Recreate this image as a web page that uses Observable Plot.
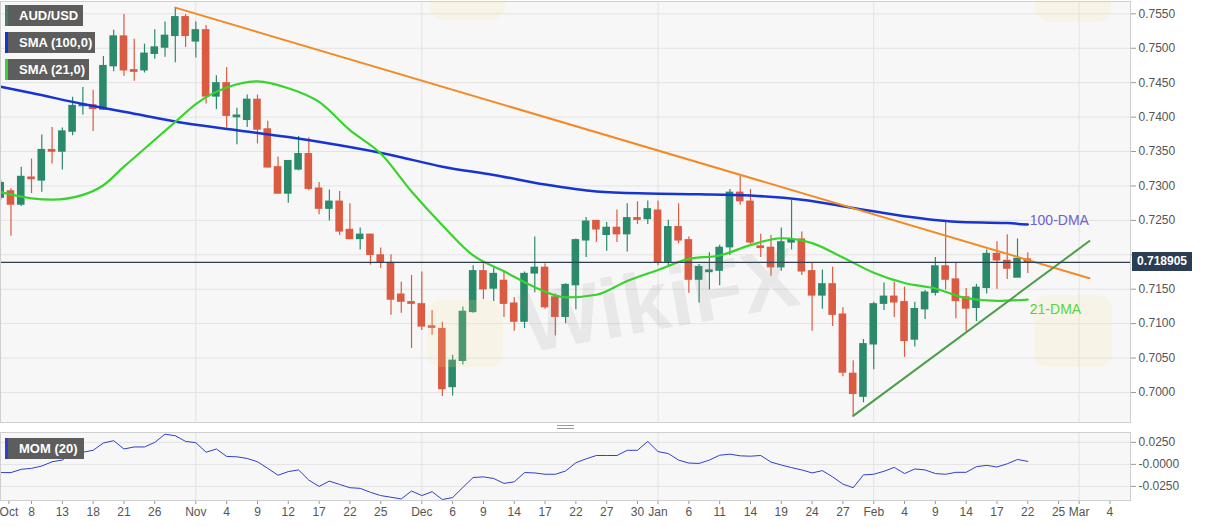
<!DOCTYPE html>
<html>
<head>
<meta charset="utf-8">
<script src="https://cdn.jsdelivr.net/npm/d3@7"></script>
<script src="https://cdn.jsdelivr.net/npm/@observablehq/plot@0.6"></script>
<style>
  body { margin: 0; background: #fff; font-family: "Liberation Sans", Arial, sans-serif; }
  #wrap { position: relative; width: 1207px; height: 526px; overflow: hidden; }
  #main, #mom { position: absolute; left: 0; }
  #main { top: 0; }
  #mom { top: 427px; }
  .tag { position: absolute; left: 5px; height: 21px; line-height: 21px; box-sizing: border-box;
         background: #5d5d5d; color: #fff; font-weight: bold; font-size: 13px; padding-left: 11px;
         border-left: 3px solid #777; white-space: nowrap; }
  .wm { position: absolute; pointer-events: none; white-space: nowrap; font-weight: bold; }
  .logo { position: absolute; pointer-events: none; border-radius: 14px; background: rgba(250, 228, 150, 0.16); }
  #price { position: absolute; left: 1132px; width: 60px; height: 19px; line-height: 19px; background: #2b3d55;
           color: #fff; font-weight: bold; font-size: 12px; text-align: center; }
  #handle { position: absolute; left: 557px; top: 425px; width: 17px; height: 2px;
            border-top: 1px solid #9a9a9a; border-bottom: 1px solid #9a9a9a; }
</style>
</head>
<body>
<div id="wrap"></div>
<script>
// trading-day index: 0 = Oct 8 2021, 97 = Feb 22 2022
const firstDay = -3;

// daily candles, AUD/USD
const open = [
  0.7283, 0.7292, 0.7273, 0.7312, 0.7308, 0.7352, 0.7350, 0.7379, 0.7416, 0.7417,
  0.7411, 0.7474, 0.7517, 0.7468, 0.7468, 0.7492, 0.7501, 0.7518, 0.7545, 0.7510,
  0.7526, 0.7430, 0.7449, 0.7400, 0.7396, 0.7425, 0.7382, 0.7327, 0.7289, 0.7324,
  0.7346, 0.7296, 0.7267, 0.7277, 0.7236, 0.7223, 0.7229, 0.7199, 0.7188, 0.7142,
  0.7131, 0.7128, 0.7096, 0.7092, 0.7008, 0.7046, 0.7117, 0.7176, 0.7151, 0.7162,
  0.7129, 0.7103, 0.7173, 0.7181, 0.7138, 0.7110, 0.7156, 0.7221, 0.7249, 0.7229,
  0.7239, 0.7230, 0.7253, 0.7252, 0.7264, 0.7190, 0.7240, 0.7221, 0.7164, 0.7175,
  0.7177, 0.7211, 0.7290, 0.7277, 0.7212, 0.7210, 0.7182, 0.7218, 0.7222, 0.7176,
  0.7141, 0.7157, 0.7113, 0.7027, 0.6994, 0.7070, 0.7129, 0.7139, 0.7131, 0.7077,
  0.7121, 0.7145, 0.7183, 0.7164, 0.7138, 0.7123, 0.7152, 0.7201, 0.7191, 0.7167,
  0.7193
];
const high = [
  0.7308, 0.7296, 0.7327, 0.7339, 0.7374, 0.7385, 0.7384, 0.7429, 0.7443, 0.7439,
  0.7488, 0.7526, 0.7549, 0.7513, 0.7506, 0.7527, 0.7538, 0.7559, 0.7549, 0.7538,
  0.7533, 0.7460, 0.7472, 0.7413, 0.7432, 0.7432, 0.7394, 0.7342, 0.7337, 0.7372,
  0.7370, 0.7305, 0.7294, 0.7292, 0.7274, 0.7239, 0.7230, 0.7210, 0.7200, 0.7160,
  0.7170, 0.7175, 0.7119, 0.7102, 0.7054, 0.7124, 0.7184, 0.7187, 0.7181, 0.7177,
  0.7138, 0.7175, 0.7226, 0.7187, 0.7143, 0.7158, 0.7223, 0.7254, 0.7250, 0.7247,
  0.7265, 0.7274, 0.7277, 0.7278, 0.7278, 0.7250, 0.7274, 0.7226, 0.7186, 0.7203,
  0.7214, 0.7295, 0.7315, 0.7295, 0.7230, 0.7228, 0.7239, 0.7279, 0.7233, 0.7188,
  0.7178, 0.7182, 0.7123, 0.7046, 0.7077, 0.7131, 0.7159, 0.7160, 0.7153, 0.7131,
  0.7148, 0.7196, 0.7249, 0.7188, 0.7151, 0.7157, 0.7207, 0.7219, 0.7229, 0.7223,
  0.7203
];
const low = [
  0.7279, 0.7227, 0.7270, 0.7289, 0.7291, 0.7332, 0.7323, 0.7373, 0.7403, 0.7379,
  0.7410, 0.7466, 0.7459, 0.7452, 0.7464, 0.7484, 0.7487, 0.7479, 0.7501, 0.7486,
  0.7419, 0.7411, 0.7384, 0.7360, 0.7385, 0.7361, 0.7326, 0.7288, 0.7275, 0.7322,
  0.7293, 0.7258, 0.7249, 0.7228, 0.7222, 0.7207, 0.7185, 0.7180, 0.7112, 0.7115,
  0.7064, 0.7090, 0.7083, 0.6994, 0.6995, 0.7040, 0.7115, 0.7135, 0.7132, 0.7109,
  0.7089, 0.7093, 0.7145, 0.7121, 0.7082, 0.7100, 0.7120, 0.7196, 0.7218, 0.7205,
  0.7218, 0.7204, 0.7244, 0.7244, 0.7184, 0.7184, 0.7216, 0.7144, 0.7130, 0.7149,
  0.7155, 0.7199, 0.7272, 0.7213, 0.7196, 0.7169, 0.7176, 0.7207, 0.7170, 0.7089,
  0.7121, 0.7096, 0.7023, 0.6966, 0.6985, 0.7033, 0.7119, 0.7109, 0.7051, 0.7066,
  0.7106, 0.7140, 0.7149, 0.7107, 0.7088, 0.7103, 0.7143, 0.7150, 0.7164, 0.7167,
  0.7173
];
const close = [
  0.7304, 0.7273, 0.7313, 0.7310, 0.7352, 0.7350, 0.7379, 0.7416, 0.7418, 0.7412,
  0.7474, 0.7517, 0.7468, 0.7466, 0.7492, 0.7501, 0.7518, 0.7545, 0.7518, 0.7526,
  0.7430, 0.7449, 0.7402, 0.7402, 0.7425, 0.7382, 0.7327, 0.7289, 0.7336, 0.7346,
  0.7296, 0.7267, 0.7277, 0.7234, 0.7223, 0.7229, 0.7200, 0.7189, 0.7135, 0.7132,
  0.7129, 0.7096, 0.7094, 0.7005, 0.7046, 0.7117, 0.7176, 0.7150, 0.7172, 0.7129,
  0.7103, 0.7172, 0.7181, 0.7124, 0.7110, 0.7156, 0.7221, 0.7248, 0.7237, 0.7239,
  0.7230, 0.7253, 0.7251, 0.7266, 0.7189, 0.7240, 0.7221, 0.7164, 0.7182, 0.7177,
  0.7210, 0.7290, 0.7278, 0.7218, 0.7210, 0.7182, 0.7218, 0.7222, 0.7176, 0.7141,
  0.7157, 0.7113, 0.7029, 0.6998, 0.7070, 0.7128, 0.7139, 0.7131, 0.7075, 0.7121,
  0.7145, 0.7183, 0.7164, 0.7133, 0.7122, 0.7152, 0.7201, 0.7192, 0.7180, 0.7194,
  0.718905
];

// moving averages
const sma100Days = [-3, 0, 5, 10, 15, 20, 25, 30, 35, 40, 45, 50, 55, 60, 65, 70, 75, 80, 85, 90, 95, 97];
const sma100 = [0.7444, 0.7435, 0.7419, 0.7405, 0.7391, 0.7381, 0.7371, 0.7359, 0.7345, 0.7328, 0.7316,
                0.7302, 0.7292, 0.7289, 0.7288, 0.7286, 0.7280, 0.7268, 0.7256, 0.7248, 0.7246, 0.7244];
const sma21Days = [-3, 0, 2, 5, 7, 9, 11, 14, 16, 19, 22, 25, 28, 31, 34, 37, 40, 43, 46, 49, 52, 55,
                   58, 61, 64, 67, 70, 73, 76, 79, 82, 85, 88, 91, 94, 97];
const sma21 = [0.7291, 0.7282, 0.7280, 0.7287, 0.7301, 0.7328, 0.7354, 0.7393, 0.7419, 0.7443, 0.7452, 0.7442,
               0.7422, 0.7381, 0.7347, 0.7292, 0.7243, 0.7199, 0.7176, 0.7153, 0.7138, 0.7142, 0.7162, 0.7178,
               0.7194, 0.7199, 0.7214, 0.7224, 0.7217, 0.7196, 0.7174, 0.7159, 0.7151, 0.7137, 0.7133, 0.7135];

// trend lines (start/end)
const resistDays = [14, 103];
const resistVals = [0.7559, 0.7166];
const supportDays = [80, 103];
const supportVals = [0.6966, 0.7220];

// MOM(20), one value per day from firstDay
const mom = [
  -0.0093, -0.0093, -0.0056, -0.0045, -0.0019,
  0.0030, 0.0049, 0.0131, 0.0138, 0.0160,
  0.0243, 0.0269, 0.0175, 0.0198, 0.0198,
  0.0250, 0.0343, 0.0325, 0.0261, 0.0246,
  0.0138, 0.0175, 0.0090, 0.0086, 0.0067,
  0.0030, -0.0045, -0.0123, -0.0082, -0.0063,
  -0.0179, -0.0250, -0.0190, -0.0228, -0.0265,
  -0.0272, -0.0317, -0.0354, -0.0373, -0.0392,
  -0.0302, -0.0354, -0.0310, -0.0399, -0.0377,
  -0.0261, -0.0149, -0.0142, -0.0160, -0.0216,
  -0.0198, -0.0093, -0.0097, -0.0112, -0.0112,
  -0.0075, 0.0019, 0.0063, 0.0101, 0.0101,
  0.0101, 0.0160, 0.0160, 0.0261, 0.0145,
  0.0123, 0.0049, 0.0015, 0.0011, 0.0049,
  0.0104, 0.0116, 0.0097, 0.0093, 0.0101,
  0.0026, -0.0007, -0.0037, -0.0063, -0.0097,
  -0.0071, -0.0142, -0.0224, -0.0265, -0.0119,
  -0.0112, -0.0078, -0.0034, -0.0104, -0.0052,
  -0.0063, -0.0104, -0.0112, -0.0090, -0.0090,
  -0.0026, -0.0011, -0.0030, 0.0007, 0.0056,
  0.0034
];

// axes
const priceTicks = [0.7000, 0.7050, 0.7100, 0.7150, 0.7200, 0.7250, 0.7300, 0.7350, 0.7400, 0.7450, 0.7500, 0.7550];
const momTicks = [0.025, 0, -0.025];
const monthStarts = [16, 38, 61, 82, 102];
const dayTicks = [-2.2, 0, 3, 6, 9, 12, 16, 19, 22, 25, 28, 31, 34, 38, 41, 44, 47, 50, 53, 56, 59, 61,
                  64, 67, 70, 73, 76, 79, 82, 85, 88, 91, 94, 97, 100, 102, 105];
const dayLabels = ["Oct", "8", "13", "18", "21", "26", "Nov", "4", "9", "12", "17", "22", "25", "Dec", "6", "9",
                   "14", "17", "22", "27", "30", "Jan", "6", "11", "14", "19", "24", "27", "Feb", "4", "9", "14",
                   "17", "22", "25", "Mar", "4"];

const UP = "#2b8a6b";
const DOWN = "#db5a42";
const GRID = "#e3e3e3";
const FONT = "'Liberation Sans', Arial, sans-serif";
const xDomain = [-3.02, 107];

const candles = open.map((o, k) => ({t: firstDay + k, o, h: high[k], l: low[k], c: close[k]}));
const sma100Rows = sma100Days.map((t, k) => ({t, v: sma100[k]}));
const sma21Rows = sma21Days.map((t, k) => ({t, v: sma21[k]}));
const momRows = mom.map((v, k) => ({t: firstDay + k, v}));
const lastClose = close[close.length - 1];
const candleColor = d => d.c >= d.o ? UP : DOWN;
const dayLabelOf = new Map(dayTicks.map((t, k) => [t, dayLabels[k]]));
// the 0.7200 label sits under the last-price box
const priceLabel = d => Math.abs(d - lastClose) < 0.002 ? "" : d.toFixed(4);

const main = Plot.plot({
  width: 1207,
  height: 423,
  marginTop: 1,
  marginBottom: 1,
  marginLeft: 0,
  marginRight: 77,
  style: {background: "transparent", fontFamily: FONT, fontSize: "12px", color: "#555"},
  x: {domain: xDomain, axis: null},
  y: {domain: [0.69564, 0.75679]},
  marks: [
    Plot.frame({fill: "#f7f7f7", stroke: null}),
    Plot.gridY(priceTicks, {stroke: GRID, strokeOpacity: 1}),
    Plot.gridX(monthStarts, {stroke: GRID, strokeOpacity: 1}),
    Plot.ruleX(candles, {x: "t", y1: "l", y2: "h", stroke: candleColor, strokeWidth: 1.2, clip: true}),
    Plot.rect(candles, {
      x1: d => d.t - 0.37, x2: d => d.t + 0.37, y1: "o", y2: "c",
      fill: candleColor, insetTop: -0.7, insetBottom: -0.7, clip: true
    }),
    Plot.line(sma100Rows, {x: "t", y: "v", stroke: "#1634d2", strokeWidth: 2.5, curve: "monotone-x", clip: true}),
    Plot.line(sma21Rows, {x: "t", y: "v", stroke: "#38d42c", strokeWidth: 2.2, curve: "monotone-x", clip: true}),
    Plot.line(resistDays.map((t, k) => ({t, v: resistVals[k]})), {x: "t", y: "v", stroke: "#f28a25", strokeWidth: 2}),
    Plot.line(supportDays.map((t, k) => ({t, v: supportVals[k]})), {x: "t", y: "v", stroke: "#4c9e47", strokeWidth: 2}),
    Plot.ruleY([lastClose], {stroke: "#2c3e50", strokeWidth: 1.2}),
    Plot.text([sma100Rows[sma100Rows.length - 1]], {
      x: "t", y: "v", text: () => "100-DMA", dx: 2, dy: -4, textAnchor: "start",
      fill: "#7060d0", fontSize: 14
    }),
    Plot.text([sma21Rows[sma21Rows.length - 1]], {
      x: "t", y: "v", text: () => "21-DMA", dx: 2, dy: 10, textAnchor: "start",
      fill: "#38d42c", fontSize: 14
    }),
    Plot.axisY(priceTicks, {
      anchor: "right", tickFormat: priceLabel, tickSize: 5, tickPadding: 3,
      fontSize: 12, label: null, stroke: "#999"
    }),
    Plot.frame({stroke: "#cfcfcf"})
  ]
});

const momChart = Plot.plot({
  width: 1207,
  height: 99,
  marginTop: 5,
  marginBottom: 26,
  marginLeft: 0,
  marginRight: 77,
  style: {background: "transparent", fontFamily: FONT, fontSize: "12px", color: "#555"},
  x: {domain: xDomain},
  y: {domain: [-0.041, 0.0362]},
  marks: [
    Plot.frame({fill: "#f7f7f7", stroke: null}),
    Plot.gridY(momTicks, {stroke: GRID, strokeOpacity: 1}),
    Plot.gridX(monthStarts, {stroke: GRID, strokeOpacity: 1}),
    Plot.line(momRows, {x: "t", y: "v", stroke: "#2f40c9", strokeWidth: 1, clip: true}),
    Plot.axisY(momTicks, {
      anchor: "right", tickFormat: d => d === 0 ? "-0.0000" : d.toFixed(4), tickSize: 5, tickPadding: 3,
      fontSize: 12, label: null, stroke: "#999"
    }),
    Plot.axisX(dayTicks, {
      anchor: "bottom", tickFormat: d => dayLabelOf.get(d), tickSize: 4, tickPadding: 3,
      fontSize: 12, label: null, stroke: "#999"
    }),
    Plot.frame({stroke: "#cfcfcf"})
  ]
});

const wrap = document.getElementById("wrap");
main.id = "main";
momChart.id = "mom";
wrap.appendChild(main);
wrap.appendChild(momChart);

// legend tags
[
  ["AUD/USD", 5, 78, "#4a7a6b"],
  ["SMA (100,0)", 32, 90, "#1634d2"],
  ["SMA (21,0)", 59, 84, "#38d42c"],
  ["MOM (20)", 438, 79, "#2f40c9"]
].forEach(([txt, top, w, c]) => {
  const el = document.createElement("div");
  el.className = "tag";
  el.textContent = txt;
  el.style.top = top + "px";
  el.style.width = w + "px";
  el.style.borderLeftColor = c;
  wrap.appendChild(el);
});

// last price box
const priceBox = document.createElement("div");
priceBox.id = "price";
priceBox.textContent = lastClose.toFixed(6);
priceBox.style.top = (main.scale("y").apply(lastClose) - 9.5) + "px";
wrap.appendChild(priceBox);

const handle = document.createElement("div");
handle.id = "handle";
wrap.appendChild(handle);

// faint watermark
[[427, 300, 76, 67], [430, -40, 75, 60], [1035, -40, 76, 62], [1034, 295, 78, 72]].forEach(([l, t, w, h]) => {
  const el = document.createElement("div");
  el.className = "logo";
  Object.assign(el.style, {left: l + "px", top: t + "px", width: w + "px", height: h + "px"});
  wrap.appendChild(el);
});
const wm = document.createElement("div");
wm.className = "wm";
wm.textContent = "WikiFX";
Object.assign(wm.style, {
  left: "520px", top: "252px", fontSize: "84px", color: "rgba(140,128,128,0.13)", transform: "rotate(-10deg)"
});
wrap.appendChild(wm);
</script>
</body>
</html>
